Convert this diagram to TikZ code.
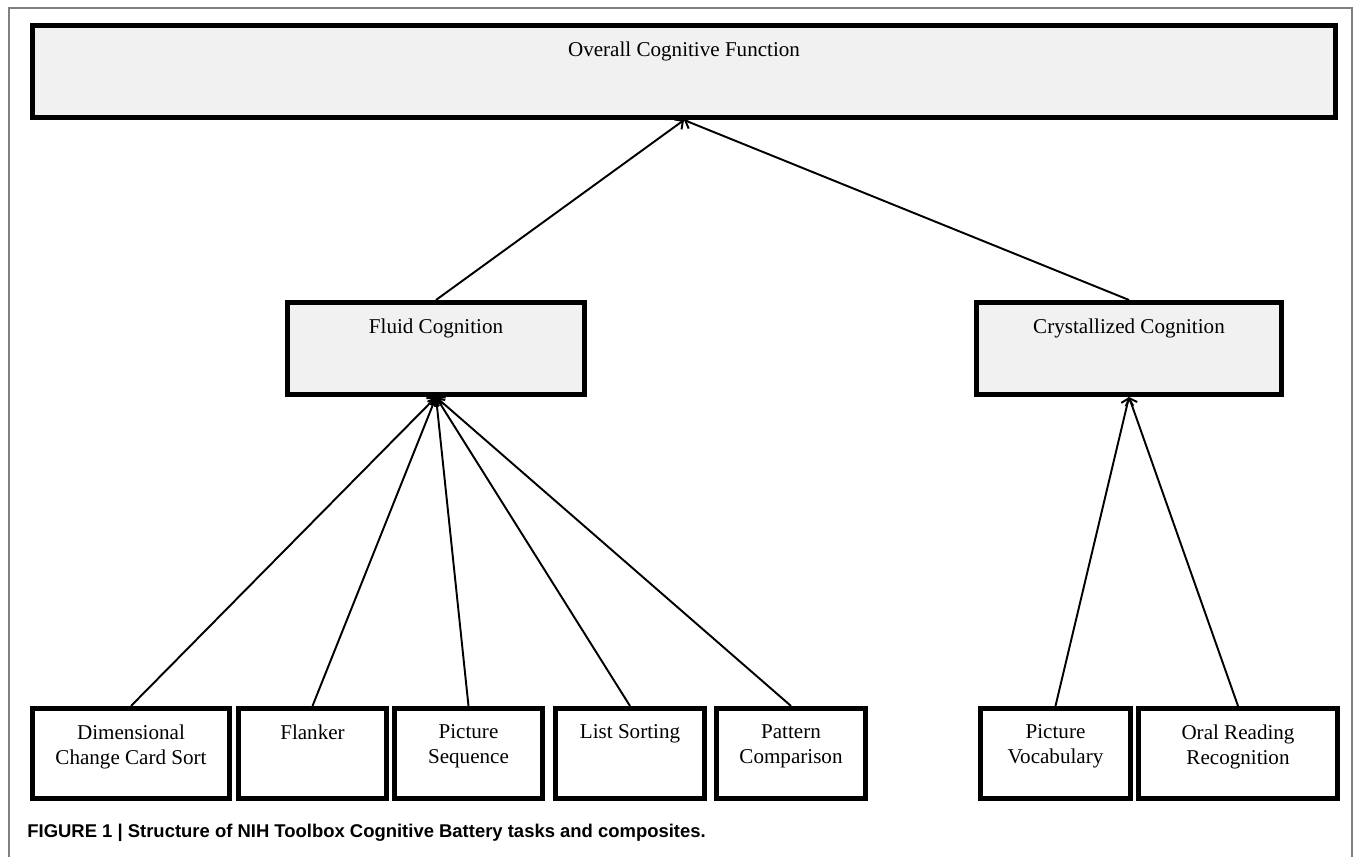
\documentclass[tikz,border=0pt]{standalone}
\usepackage{fontspec}
\setmainfont{Liberation Serif}
\newfontfamily\capfont{Liberation Sans}
\usepackage{tikz}
\usetikzlibrary {arrows.meta}
\usetikzlibrary{calc}

\definecolor{boxgray}{HTML}{F1F1F1}
\definecolor{framegray}{HTML}{808080}

\begin{document}
\begin{tikzpicture}[
	box/.style={draw, line width=2.7pt, minimum height=1.806cm, inner sep=0pt,
		label={[anchor=north, yshift=-0.37cm, inner sep=0pt, align=center,
			font=\fontsize{12}{14.2}\selectfont]north:#1}},
	compbox/.style={box=#1, fill=boxgray, minimum height=1.846cm},
	conn/.style={line width=1.1pt, -{Straight Barb[length=3.5pt, width=7pt]}}
	]
	\useasboundingbox (0, 0) rectangle (27.1, 17.14);
	\draw[framegray, line width=0.8pt] (0.18, 0) |- (27.04, 16.98) -- (27.04, 0);

	% composites
	\node[compbox={Overall Cognitive Function}, minimum width=26.06cm] (overall) at (13.68, 15.71) {};
	\node[compbox={Fluid Cognition}, minimum width=5.95cm] (fluid) at (8.72, 10.17) {};
	\node[compbox={Crystallized Cognition}, minimum width=6.1cm] (cryst) at (22.58, 10.17) {};

	% tasks
	\node[box={Dimensional\\Change Card Sort}, minimum width=3.95cm] (dccs) at (2.62, 2.07) {};
	\node[box={Flanker}, minimum width=2.97cm] (flanker) at (6.25, 2.07) {};
	\node[box={Picture\\Sequence}, minimum width=2.97cm] (picseq) at (9.37, 2.07) {};
	\node[box={List Sorting}, minimum width=2.99cm] (listsort) at (12.6, 2.07) {};
	\node[box={Pattern\\Comparison}, minimum width=2.99cm] (pattern) at (15.82, 2.07) {};
	\node[box={Picture\\Vocabulary}, minimum width=3.01cm] (picvocab) at (21.11, 2.07) {};
	\node[box={Oral Reading\\Recognition}, minimum width=3.99cm] (oral) at (24.76, 2.07) {};

	\foreach \t in {dccs, flanker, picseq, listsort, pattern}
		\draw[conn] (\t.north) -- (fluid.south);
	\foreach \t in {picvocab, oral}
		\draw[conn] (\t.north) -- (cryst.south);
	\draw[conn] (fluid.north) -- (overall.south);
	\draw[conn] (cryst.north) -- (overall.south);

	\node[anchor=west, inner sep=0pt, font=\capfont\bfseries\fontsize{10.5}{12}\selectfont] (caption) at (0.54, 0.48)
		{FIGURE 1 | Structure of NIH Toolbox Cognitive Battery tasks and composites.};
\end{tikzpicture}
\end{document}
